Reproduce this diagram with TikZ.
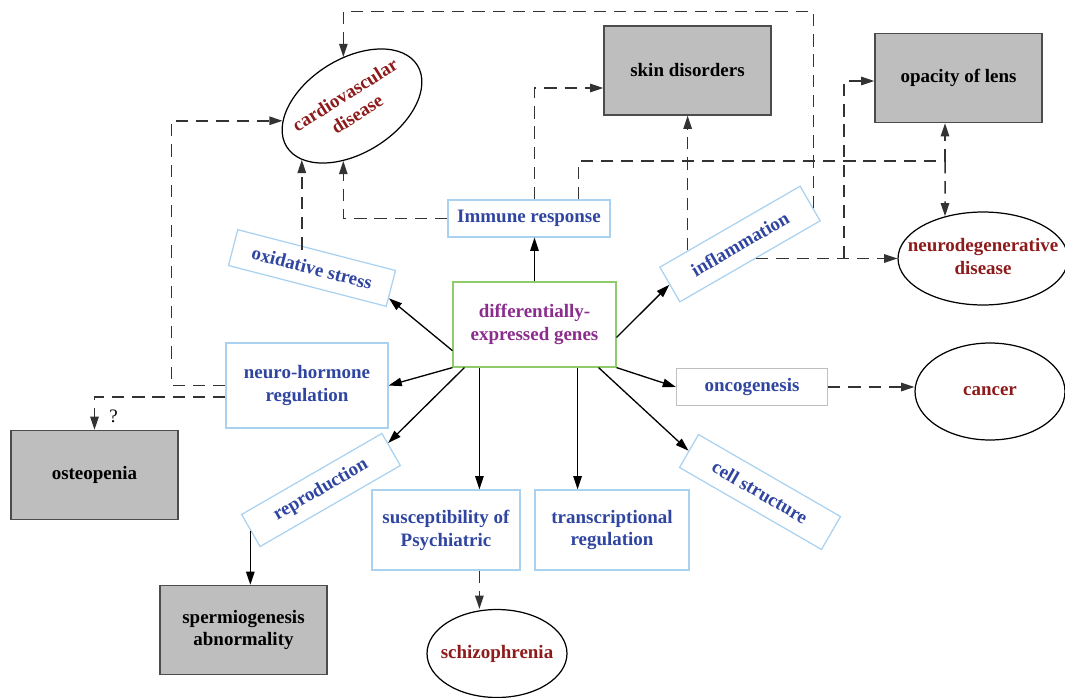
\documentclass[tikz,border=0pt]{standalone}
\usepackage{fontspec}
\setmainfont{Liberation Serif}
\usetikzlibrary{shapes.geometric,arrows.meta,calc}
\definecolor{txtblue}{HTML}{2F45A0}
\definecolor{txtpurple}{HTML}{8A2D8C}
\definecolor{txtred}{HTML}{8E1B1B}
\definecolor{boxblue}{HTML}{A9D1F0}
\definecolor{boxgreen}{HTML}{8DCB6B}
\definecolor{boxgray}{HTML}{BEBEBE}
\newcommand{\ctext}[1]{\makebox[0pt]{\begin{tabular}{@{}c@{}}#1\end{tabular}}}

\begin{document}
\begin{tikzpicture}[x=0.02cm, y=-0.02cm,
  every node/.style={font=\fontsize{10.8}{13}\selectfont\bfseries, inner sep=1pt},
  genebox/.style={draw=boxgreen, line width=0.7pt, text=txtpurple, align=center, minimum width=3.26cm, minimum height=1.7cm},
  rolebox/.style={draw=boxblue, line width=0.7pt, text=txtblue, align=center},
  greybox/.style={draw=black!70, fill=boxgray, line width=0.8pt, align=center, minimum width=3.34cm, minimum height=1.78cm},
  illness/.style={ellipse, draw, line width=0.7pt, text=txtred, inner sep=0pt},
  arr/.style={-{Triangle[length=7.5pt,width=4.8pt]}, line width=0.75pt},
  darr/.style={arr, line width=0.85pt, dash pattern=on 7pt off 4.5pt, draw=black!80},
  dline/.style={line width=0.85pt, dash pattern=on 7pt off 4.5pt, draw=black!80}]
\useasboundingbox (0,0) rectangle (1065,697);

\node[genebox] (genes) at (534.5,324.5) {differentially-\\expressed genes};
\node[rolebox, minimum width=3.24cm, minimum height=0.74cm] (immune) at (529,218.5) {Immune response};
\node[rolebox, minimum width=3.26cm, minimum height=0.74cm, rotate=-14.5] (ox) at (312,268) {oxidative stress};
\node[rolebox, minimum width=3.24cm, minimum height=0.8cm, rotate=30] (infl) at (740,244) {inflammation};
\node[rolebox, minimum width=3.24cm, minimum height=1.7cm] (nh) at (307,385.5) {neuro-hormone\\regulation};
\node[rolebox, minimum width=3.24cm, minimum height=0.74cm, rotate=30] (rep) at (321,490) {reproduction};
\node[rolebox, minimum width=2.96cm, minimum height=1.6cm] (psych) at (446,530) {susceptibility of\\Psychiatric};
\node[rolebox, minimum width=3.08cm, minimum height=1.6cm] (trans) at (612,530) {transcriptional\\regulation};
\node[rolebox, minimum width=3.28cm, minimum height=0.76cm, rotate=-30] (cell) at (760,492) {cell structure};
\node[rolebox, draw=black!25, minimum width=3.02cm, minimum height=0.74cm] (onco) at (752,387) {oncogenesis};

\node[greybox] (skin) at (687.5,70.5) {skin disorders};
\node[greybox] (opac) at (958.5,78) {opacity of lens};
\node[greybox] (osteo) at (94.5,475) {osteopenia};
\node[greybox] (sperm) at (243.5,630) {spermiogenesis\\abnormality};

\node[illness, minimum width=3.08cm, minimum height=1.88cm, rotate=32] (cardio) at (352,106) {\ctext{cardiovascular\\disease}};
\node[illness, minimum width=3.4cm, minimum height=1.86cm] (neuro) at (983,258.5) {\ctext{neurodegenerative\\disease}};
\node[illness, minimum width=3cm, minimum height=1.94cm] (cancer) at (990,391.5) {cancer};
\node[illness, minimum width=2.8cm, minimum height=1.76cm] (schizo) at (497,653.5) {\ctext{schizophrenia}};

\draw[arr] (genes.north) -- (genes.north |- immune.south);
\draw[arr] ($(genes.south west)+(0,-17)$) -- (ox.-7);
\draw[arr] (genes.south west) -- (nh.east);
\draw[arr] ($(genes.south west)+(12,0)$) -- (rep.5);
\draw[arr] ($(genes.south west)+(27,0)$) coordinate (gp) -- (gp |- psych.north);
\draw[arr] ($(genes.south east)+(-39,0)$) coordinate (gt) -- (gt |- trans.north);
\draw[arr] ($(genes.south east)+(-18,0)$) -- (cell.west);
\draw[arr] (genes.south east) -- (onco.west);
\draw[arr] ($(genes.north east)+(0,56)$) -- (infl.west);
\draw[arr] (rep.west) -- (rep.west |- sperm.north);

\draw[darr] (immune.west) -| (cardio.229);
\draw[darr] (cardio.195 |- ox.north) -- (cardio.195);
\draw[darr] (nh.west) -- ++(-54,0) |- (cardio.160);
\draw[darr] ($(nh.west)+(0,11.5)$) -| (osteo.north) node[pos=0.8, right=7pt, font=\fontsize{10.8}{13}\selectfont] (q) {?};
\draw[darr] (genes.north |- immune.north) |- ($(skin.west)+(0,17.5)$);
\coordinate (j) at (945,161);
\draw[dline] ($(immune.north east)+(-32,0)$) |- (j);
\draw[darr] (j) -- (j |- opac.south);
\draw[darr] (j) -- (neuro.132);
\draw[darr] (infl.157) -- (infl.157 |- skin.south);
\draw[darr] (infl.-4) -- ++(0,-196.5) -| (cardio.68);
\draw[darr] (infl.-72) -- (infl.-72 -| neuro.west);
\coordinate (br) at (844,258);
\draw[darr] (br) |- ($(opac.west)+(0,3)$);
\draw[darr] (onco.east) -- (onco.east -| cancer.west);
\draw[darr] (gp |- psych.south) -- (gp |- schizo.north);
\end{tikzpicture}
\end{document}
